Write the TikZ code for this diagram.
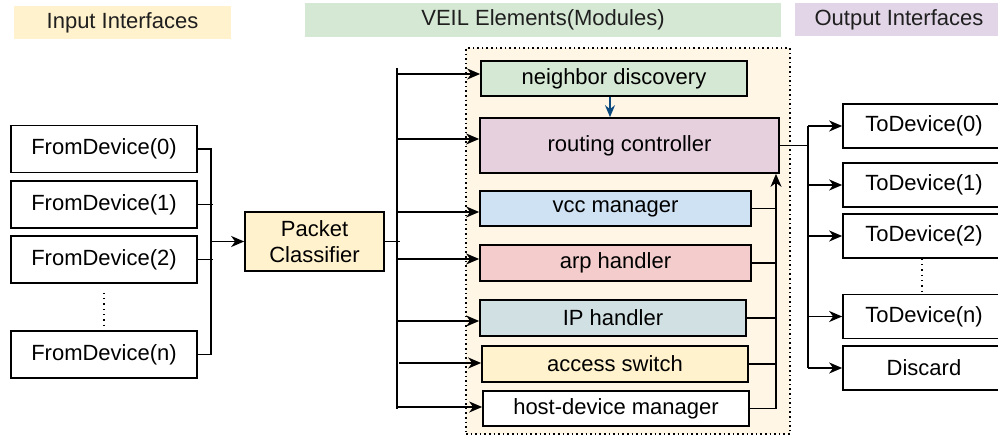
\documentclass[tikz,border=0pt]{standalone}
\usepackage{fontspec}
\setmainfont{Liberation Sans}
\usetikzlibrary{arrows.meta}

\definecolor{hdrin}{HTML}{FFF2CC}
\definecolor{hdrveil}{HTML}{D5E8D4}
\definecolor{hdrout}{HTML}{E1D5E7}
\definecolor{framefill}{HTML}{FFF6E5}
\definecolor{ndfill}{HTML}{D5E8D4}
\definecolor{rcfill}{HTML}{E6D0DE}
\definecolor{vccfill}{HTML}{CFE2F3}
\definecolor{arpfill}{HTML}{F4CCCC}
\definecolor{ipfill}{HTML}{D0E0E3}
\definecolor{asfill}{HTML}{FFF2CC}
\definecolor{pcfill}{HTML}{FFF2CC}
\definecolor{darkblue}{HTML}{0A4A7F}

\tikzset{
  lbl/.style={font=\fontsize{22}{26.5}\selectfont, text=black, inner sep=0pt},
  hdr/.style={lbl, text=black!88},
  box/.style={lbl, draw, line width=1.7pt},
  wire/.style={line width=1.7pt},
  arr/.style={wire, -{Stealth[length=13pt,width=11pt,inset=4pt]}},
  bluearr/.style={line width=1.7pt, draw=darkblue, -{Stealth[length=12pt,width=10pt,inset=4pt]}},
  dots/.style={line width=1.3pt, dash pattern=on 1.3pt off 4pt},
  veilframe/.style={draw, fill=framefill, line width=1.6pt, dash pattern=on 1.6pt off 3pt},
}

\begin{document}
\begin{tikzpicture}[x=1pt,y=-1pt]
\useasboundingbox (0,0) rectangle (998,436);

% section headers
\node[hdr, fill=hdrin, minimum width=217pt, minimum height=33pt] (hin) at (122.5,22.5) {Input Interfaces};
\node[hdr, fill=hdrveil, minimum width=476pt, minimum height=34pt] (hveil) at (543,20) {VEIL Elements(Modules)};
\node[hdr, fill=hdrout, minimum width=208pt, minimum height=33pt] (hout) at (899,19.5) {Output Interfaces};

% module container
\node[veilframe, minimum width=324pt, minimum height=386pt] (veil) at (628,241) {};

% input interfaces
\node[box, minimum width=186pt, minimum height=47pt] (fd0) at (104,149) {FromDevice(0)};
\node[box, minimum width=186pt, minimum height=47pt] (fd1) at (104,204.5) {FromDevice(1)};
\node[box, minimum width=186pt, minimum height=47pt] (fd2) at (104,259.5) {FromDevice(2)};
\node[box, minimum width=186pt, minimum height=47pt] (fdn) at (104,354.5) {FromDevice(n)};
\draw[dots] ([yshift=-9pt]fd2.south) -- (fdn.north);

% packet classifier
\node[box, fill=pcfill, minimum width=139pt, minimum height=59pt, align=center] (pc) at (314.5,241.5) {Packet\\Classifier};

% input bus
\draw[wire] (fd0.east) -- ++(13,0) |- (fdn.east);
\draw[wire] (fd1.east) -- ++(15,0);
\draw[wire] (fd2.east) -- ++(15,0);
\coordinate (inb) at (212,241.5);
\draw[arr] (inb) -- (pc.west);

% modules
\node[box, fill=ndfill, minimum width=266pt, minimum height=35pt] (nd) at (614,78.5) {neighbor discovery};
\node[box, fill=rcfill, minimum width=299pt, minimum height=55pt] (rc) at (629.5,145.5) {routing controller};
\node[box, fill=vccfill, minimum width=271pt, minimum height=35pt] (vcc) at (615.5,208.5) {vcc manager};
\node[box, fill=arpfill, minimum width=271pt, minimum height=36pt] (arp) at (615.5,263) {arp handler};
\node[box, fill=ipfill, minimum width=266pt, minimum height=36pt] (ip) at (613,318) {IP handler};
\node[box, fill=asfill, minimum width=266pt, minimum height=36pt] (as) at (615,364) {access switch};
\node[box, fill=white, minimum width=266pt, minimum height=35pt] (hd) at (616,408.5) {host-device manager};

% classifier fan-out
\coordinate (mbt) at (397,68);
\coordinate (mbb) at (397,409);
\draw[wire] (pc.east) -- ++(15,0);
\draw[wire] (mbt) -- (mbb);
\foreach \n/\y in {nd/74, rc/139, vcc/212, arp/259, ip/321, hd/407}
  \draw[arr] (397,\y) -- (\n.west |- 0,\y);
\draw[arr] (399,363) -- (as.west |- 0,363);

% neighbor discovery feeds routing controller
\draw[bluearr] ([xshift=-4pt]nd.south) -- ([xshift=-4pt]rc.north -| nd.south);

% module outputs into routing controller
\coordinate (rbb) at (776,409);
\draw[arr] (rbb) -- (rc.south -| rbb);
\foreach \n in {vcc,arp,ip,as,hd}
  \draw[wire] (\n.east) -- (\n.east -| rbb);

% output interfaces
\node[box, minimum width=162pt, minimum height=44pt] (td0) at (924,126) {ToDevice(0)};
\node[box, minimum width=162pt, minimum height=44pt] (td1) at (924,185) {ToDevice(1)};
\node[box, minimum width=162pt, minimum height=44pt] (td2) at (924,236) {ToDevice(2)};
\node[box, minimum width=162pt, minimum height=44pt] (tdn) at (924,316.5) {ToDevice(n)};
\node[box, minimum width=162pt, minimum height=44pt] (dis) at (924,368) {Discard};
\draw[dots] ([xshift=-2pt]td2.south) -- ([xshift=-2pt]tdn.north);

% output bus
\coordinate (ob) at (808,146);
\draw[wire] (rc.east) -- (rc.east -| ob);
\draw[wire] (ob |- td0.west) -- (ob |- dis.west);
\foreach \n in {td0,td1,td2,tdn,dis}
  \draw[arr] (ob |- \n.west) -- (\n.west);
\end{tikzpicture}
\end{document}
